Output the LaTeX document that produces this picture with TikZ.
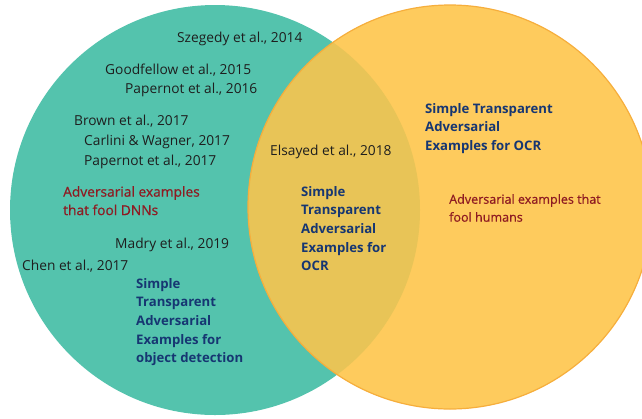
\documentclass[tikz,border=0pt]{standalone}
\usepackage{fontspec}
\setmainfont{Open Sans}
\newfontfamily\mediumface[FakeBold=0.6]{Open Sans}
\definecolor{tealfill}{HTML}{54C3AD}
\definecolor{yellowfill}{HTML}{FECB5D}
\definecolor{overlapfill}{HTML}{E8C457}
\definecolor{rimorange}{HTML}{F6AE3C}
\definecolor{citeblack}{HTML}{1E1E1E}
\definecolor{navytext}{HTML}{163672}
\definecolor{redtext}{HTML}{8E1B22}
\tikzset{
  cite/.style={anchor=west, inner sep=0pt, text=citeblack, font=\fontsize{13.8}{16}\selectfont},
  topic/.style={anchor=north west, inner sep=0pt, align=left, text=navytext, font=\fontsize{13.2}{18.7}\selectfont\bfseries},
  claim/.style={anchor=north west, inner sep=0pt, align=left, text=redtext, font=\fontsize{13.8}{18.5}\selectfont\mediumface},
}
\begin{document}
\begin{tikzpicture}[x=1bp,y=-1bp]
\useasboundingbox (0,0) rectangle (642,418);
% the two sets
\fill[tealfill] (215,210) circle[radius=205];
\fill[yellowfill] (450,207) circle[radius=202];
\begin{scope}
  \clip (215,210) circle[radius=205];
  \fill[overlapfill] (450,207) circle[radius=202];
\end{scope}
\draw[rimorange, line width=1.2bp] (450,207) circle[radius=202];
% citations
\node[cite] (szegedy) at (177,39) {Szegedy et al., 2014};
\node[cite] (goodfellow) at (105,70) {Goodfellow et al., 2015};
\node[cite] (papernot16) at (125,90) {Papernot et al., 2016};
\node[cite] (brown) at (74,121) {Brown et al., 2017};
\node[cite] (carlini) at (84,142) {Carlini \& Wagner, 2017};
\node[cite] (papernot17) at (84,162) {Papernot et al., 2017};
\node[cite] (madry) at (115,245) {Madry et al., 2019};
\node[cite] (chen) at (22,266) {Chen et al., 2017};
\node[cite] (elsayed) at (270,152) {Elsayed et al., 2018};
% set descriptions
\node[claim] (dnn) at (63,186) {Adversarial examples\\that fool DNNs};
\node[claim, font=\fontsize{12.6}{18}\selectfont\mediumface] (human) at (449,194) {Adversarial examples that\\fool humans};
% topics
\node[topic] (objdet) at (136,278) {Simple\\Transparent\\Adversarial\\Examples for\\object detection};
\node[topic] (ocrmid) at (301,186) {Simple\\Transparent\\Adversarial\\Examples for\\OCR};
\node[topic] (ocrright) at (425,103) {Simple Transparent\\Adversarial\\Examples for OCR};
\end{tikzpicture}
\end{document}
